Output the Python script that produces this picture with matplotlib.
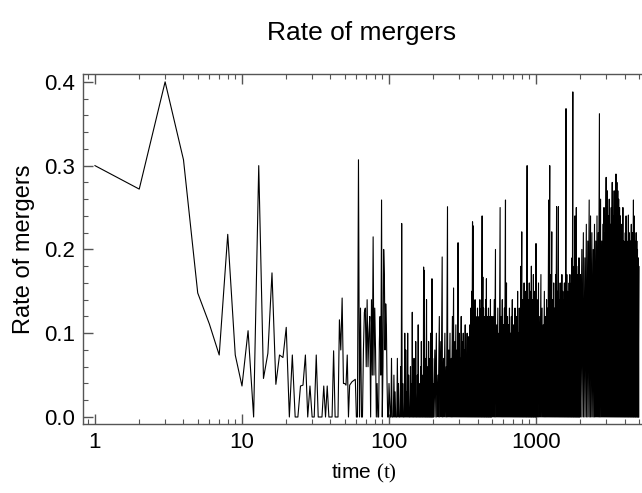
import numpy as np
import matplotlib
matplotlib.use("Agg")
import matplotlib.pyplot as plt
from matplotlib.ticker import LogLocator, MultipleLocator, NullFormatter, FixedLocator, FixedFormatter

plt.rcParams['font.family'] = ['Liberation Sans', 'DejaVu Sans']
plt.rcParams['mathtext.fontset'] = 'custom'
plt.rcParams['mathtext.rm'] = 'Liberation Serif'

# merger rate at every time step, t = 1 .. 100
t_early = list(range(1, 101))
rate_early = [
    0.300, 0.272, 0.400, 0.307, 0.148, 0.111, 0.074, 0.218, 0.074, 0.037,
    0.103, 0.000, 0.300, 0.046, 0.076, 0.172, 0.039, 0.074, 0.071, 0.107,
    0.000, 0.074, 0.000, 0.000, 0.037, 0.038, 0.074, 0.000, 0.037, 0.000,
    0.000, 0.074, 0.000, 0.000, 0.000, 0.037, 0.000, 0.037, 0.000, 0.000,
    0.000, 0.079, 0.000, 0.000, 0.000, 0.116, 0.080, 0.142, 0.040, 0.040,
    0.038, 0.074, 0.000, 0.038, 0.040, 0.042, 0.043, 0.044, 0.045, 0.000,
    0.000, 0.307, 0.000, 0.130, 0.000, 0.000, 0.080, 0.125, 0.130, 0.060,
    0.140, 0.060, 0.100, 0.120, 0.000, 0.140, 0.050, 0.215, 0.050, 0.130,
    0.080, 0.000, 0.040, 0.000, 0.000, 0.090, 0.120, 0.050, 0.259, 0.000,
    0.060, 0.200, 0.170, 0.080, 0.135, 0.110, 0.040, 0.000, 0.000, 0.040,
]

# later epochs: peak rate within each sampled window (rate falls back to 0 between peaks)
t_late = [*range(102, 201, 2), *range(205, 501, 5), *range(510, 1001, 10),
          *range(1020, 2001, 20), *range(2050, 5001, 50)]
rate_late = [
    # t = 102 .. 200
    0.000, 0.070, 0.000, 0.050, 0.030, 0.000, 0.070, 0.040, 0.000, 0.060,
    0.231, 0.040, 0.000, 0.100, 0.080, 0.030, 0.100, 0.050, 0.000, 0.060,
    0.040, 0.125, 0.000, 0.070, 0.040, 0.090, 0.000, 0.050, 0.110, 0.040,
    0.000, 0.060, 0.090, 0.030, 0.050, 0.179, 0.175, 0.070, 0.040, 0.140,
    0.000, 0.060, 0.090, 0.040, 0.070, 0.100, 0.050, 0.165, 0.070, 0.040,
    # t = 205 .. 500
    0.080, 0.100, 0.050, 0.120, 0.090, 0.191, 0.070, 0.100, 0.060, 0.251,
    0.080, 0.100, 0.070, 0.120, 0.154, 0.090, 0.110, 0.080, 0.208, 0.100,
    0.070, 0.120, 0.090, 0.100, 0.080, 0.110, 0.070, 0.100, 0.096, 0.090,
    0.110, 0.130, 0.150, 0.233, 0.228, 0.100, 0.140, 0.120, 0.110, 0.130,
    0.100, 0.120, 0.140, 0.100, 0.130, 0.240, 0.167, 0.130, 0.110, 0.120,
    0.140, 0.165, 0.120, 0.100, 0.130, 0.110, 0.120, 0.140, 0.100, 0.120,
    # t = 510 .. 1000
    0.120, 0.140, 0.200, 0.110, 0.130, 0.100, 0.250, 0.120, 0.140, 0.110,
    0.130, 0.259, 0.160, 0.120, 0.110, 0.130, 0.100, 0.120, 0.140, 0.110,
    0.090, 0.130, 0.110, 0.120, 0.150, 0.100, 0.130, 0.120, 0.180, 0.221,
    0.140, 0.130, 0.160, 0.120, 0.150, 0.130, 0.300, 0.140, 0.120, 0.160,
    0.130, 0.150, 0.180, 0.140, 0.130, 0.170, 0.140, 0.150, 0.130, 0.207,
    # t = 1020 .. 2000
    0.140, 0.160, 0.120, 0.170, 0.130, 0.110, 0.150, 0.120, 0.140, 0.130,
    0.259, 0.300, 0.170, 0.221, 0.140, 0.160, 0.130, 0.170, 0.251, 0.150,
    0.251, 0.140, 0.160, 0.130, 0.170, 0.150, 0.140, 0.160, 0.130, 0.368,
    0.170, 0.150, 0.140, 0.160, 0.170, 0.150, 0.160, 0.190, 0.388, 0.170,
    0.180, 0.240, 0.160, 0.250, 0.170, 0.150, 0.180, 0.190, 0.160, 0.170,
    # t = 2050 .. 5000
    0.200, 0.220, 0.190, 0.230, 0.210, 0.259, 0.240, 0.220, 0.200, 0.230,
    0.210, 0.240, 0.220, 0.362, 0.260, 0.210, 0.230, 0.250, 0.220, 0.286,
    0.270, 0.240, 0.260, 0.230, 0.250, 0.280, 0.240, 0.270, 0.260, 0.290,
    0.280, 0.270, 0.260, 0.250, 0.240, 0.230, 0.220, 0.250, 0.210, 0.200,
    0.220, 0.240, 0.210, 0.200, 0.241, 0.220, 0.200, 0.210, 0.230, 0.200,
    0.220, 0.259, 0.240, 0.210, 0.200, 0.220, 0.210, 0.200, 0.190, 0.180,
]

# full series: each late peak is followed by a step back at zero
t_series = list(t_early)
r_series = list(rate_early)
for t, r in zip(t_late, rate_late):
    t_series += [t, t + 1]
    r_series += [r, 0.0]

fig = plt.figure(figsize=(6.42, 4.93), dpi=100)
ax = fig.add_axes([83 / 642, 69 / 493, 562 / 642, 349.7 / 493])

ax.plot(t_series, r_series, color='black', lw=0.8)

ax.set_xscale('log')
ax.set_xlim(0.829, 5513)
ax.set_ylim(-0.00835, 0.409)

ax.xaxis.set_major_locator(FixedLocator([1, 10, 100, 1000]))
ax.xaxis.set_major_formatter(FixedFormatter(['1', '10', '100', '1000']))
ax.xaxis.set_minor_locator(LogLocator(base=10, subs=np.arange(2, 10), numticks=20))
ax.xaxis.set_minor_formatter(NullFormatter())
ax.yaxis.set_major_locator(MultipleLocator(0.1))
ax.yaxis.set_minor_locator(MultipleLocator(0.02))

frame_col = '#555555'
for side in ['left', 'top', 'bottom']:
    ax.spines[side].set_color(frame_col)
    ax.spines[side].set_linewidth(1.0)
ax.spines['right'].set_visible(False)

ax.tick_params(which='both', direction='in', top=True, right=False, color=frame_col,
               labelsize=16, pad=6)
ax.tick_params(which='major', length=7, width=1.0)
ax.tick_params(which='minor', length=3.5, width=0.8)
ax.yaxis.set_major_formatter(plt.FuncFormatter(lambda v, p: f'{v:.1f}'))

ax.set_xlabel(r'time $\mathrm{(t)}$', fontsize=15, labelpad=6)
ax.set_ylabel('Rate of mergers', fontsize=17)
ax.yaxis.set_label_coords((35 - 83) / 562, 0.5)
fig.text(362 / 642, 1 - 33 / 493, 'Rate of mergers', ha='center', va='center', fontsize=19)

fig.savefig('out.png', dpi=100)
